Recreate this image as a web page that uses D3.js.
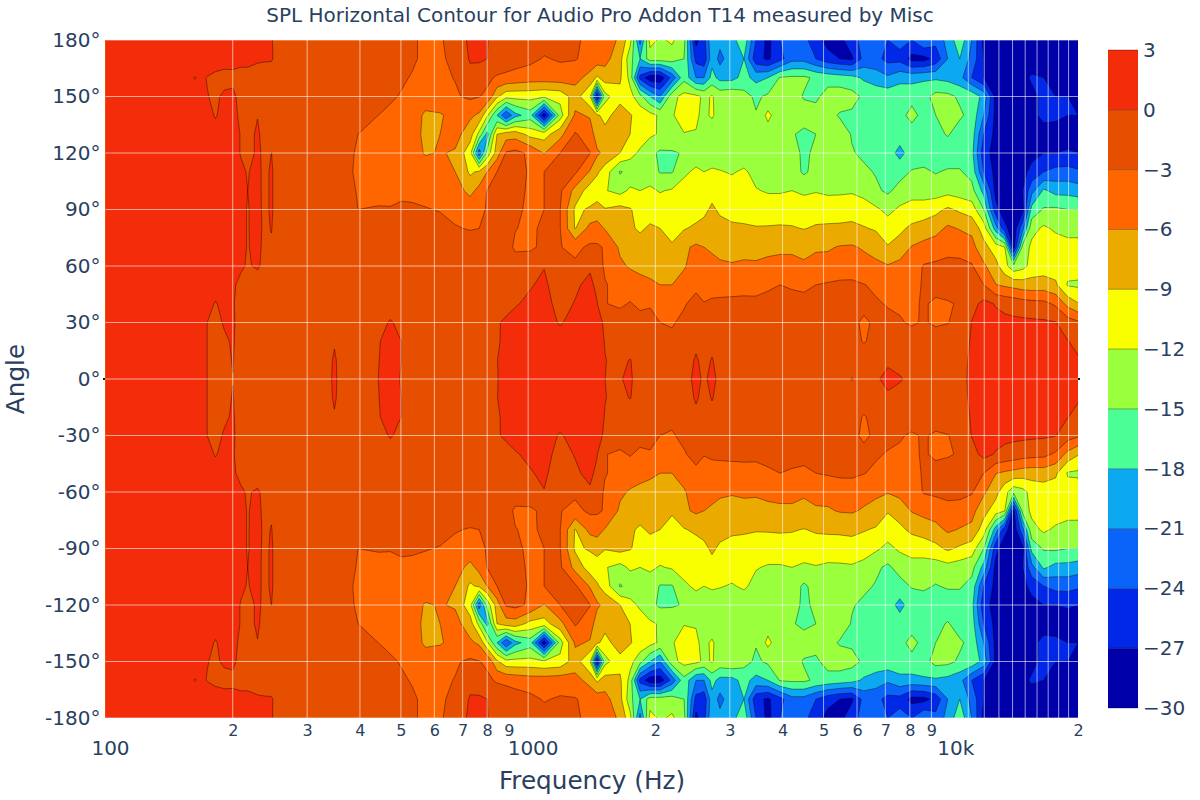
<!DOCTYPE html>
<html>
<head>
<meta charset="utf-8">
<title>SPL Horizontal Contour</title>
<script src="https://cdn.jsdelivr.net/npm/d3@7"></script>
<style>
  body { margin: 0; background: #fff; }
  text { font-family: "DejaVu Sans", Verdana, sans-serif; fill: #2a3f5f; }
</style>
</head>
<body>
<div id="chart"></div>
<script>
// frequency columns of the grid (Hz), 81 values
const frequencies = [
  100,150,163,168,174,182,191,200,209,217,229,238,247,256,289,333,348,363,396,442,
  472,501,532,571,619,672,729,766,800,844,887,932,1011,1091,1190,1292,1401,1456,1521,1650,
  1743,1840,1943,2052,2190,2338,2496,2607,2723,2844,3036,3240,3460,3693,3943,4209,4493,4796,5120,5465,
  5834,6228,6648,7096,7575,8086,8632,9214,9837,10500,11210,11967,12773,13420,14090,14790,15540,16590,17710,18910,20000
];
// angle rows from the top of the plot down to 0, the lower half mirrors them
const angles = [180,170,160,150,140,130,120,110,100,90,80,70,60,50,40,30,20,10,0];

const spl180 = [
  1.5,1.5,1.5,1.5,1.5,1.5,1.5,1,1,0.8,0.5,0.3,0.2,-1,-1.5,-1.6,-1.7,-1.8,-2,-2.2,
  -2.3,-2.5,-2.8,-3.3,-3.3,-1.8,0.6,0.7,0.1,-1,-1.3,-1.5,-1.7,-2,-2.3,-2.7,-3.5,-4,-4.5,-6.5,
  -11,-22,-11,-12.5,-11.5,-14,-28,-25,-18.5,-20,-19,-16,-24,-28,-24,-21,-23,-26,-28,-28,
  -25,-23,-23,-24,-23,-24,-21,-23,-20,-16,-21,-28,-28,-29,-29,-29,-29,-28,-28,-29,-29];
const spl170 = [
  1.5,1.5,1.5,1.5,1.5,1.5,1,0.8,0.8,0.8,0.3,0.2,0.2,-0.8,-1.5,-1.6,-1.7,-1.8,-2,-2.2,
  -2.4,-2.6,-2.8,-3.3,-3.3,-2.5,0.3,0.4,0,-1.2,-1.5,-1.8,-2.3,-3.2,-2.7,-2.8,-4,-4.3,-5,-8,
  -14,-18,-13.5,-13.5,-13.5,-15,-25,-26,-19,-22,-19,-18,-26,-27.5,-25,-22,-22,-24,-26,-27,
  -27.5,-23,-23,-25,-25,-28,-28,-26,-21,-18,-22,-27,-29,-29,-29,-29,-29,-29,-29,-29,-29];
const spl160 = [
  1.5,1,-0.1,0.5,-0.1,-0.7,-0.8,-0.6,-1,-1,-1,-1,-1.2,-1.3,-1.5,-1.7,-1.8,-1.9,-2.1,-2.4,
  -2.6,-2.8,-3.1,-3.3,-3.5,-2.9,-1,-1.5,-2.5,-3.3,-3.6,-4,-4.5,-4.5,-4.3,-5,-7,-9.5,-7.5,-8.5,
  -13,-25,-29,-29,-23,-16,-21,-21,-17,-19,-19,-17,-19,-18,-14.8,-14.5,-14.5,-15.5,-16,-16.5,
  -17,-18.5,-19.5,-20.5,-19,-19,-18.5,-18.5,-19,-20,-24,-27,-28,-29,-29,-28,-26.5,-27,-27.5,-28,-28];
const spl150 = [
  1.5,1.5,1,0.8,0.1,-0.4,0.4,0.5,-0.7,-1,-1,-1.2,-1.3,-1.4,-1.6,-1.8,-1.9,-2,-2.2,-2.6,
  -2.8,-3.1,-3.5,-4.5,-4,-3.3,-2.5,-2.9,-3.5,-8.5,-11,-11,-11,-11.5,-11,-7.5,-12,-28,-13,-10,
  -11,-14,-18,-21,-13,-11,-11.3,-12.5,-11.8,-13,-12.5,-14,-15.5,-14.5,-14,-14,-15.2,-15.5,-14,-13.5,
  -14,-15.5,-16,-16,-16,-16,-16,-14,-14.2,-15.5,-16,-19,-28,-29,-29,-29,-28,-26,-27,-27,-27.5];
const spl140 = [
  1.5,1.5,1.5,1,0.8,-0.2,0.8,0.6,-0.4,-1,-0.1,-1.2,-1.4,-1.5,-1.7,-2,-2.1,-2.2,-2.5,-3,
  -3.3,-3.6,-4.5,-6.5,-6.3,-5,-5.5,-6.5,-11.5,-18,-24,-19,-16.5,-29,-13.5,-5.5,-6.3,-8.5,-10,-7.5,
  -8.8,-10,-11,-12.5,-12.2,-11,-11.7,-12.5,-11.7,-13,-14.8,-15,-14.8,-11.2,-14,-14,-14,-14,-14,-15.3,
  -15.5,-15.7,-16,-16,-16,-14,-16,-15,-14,-14.5,-16,-21,-28,-29,-29,-29,-28,-26,-26,-27,-27];
const spl130 = [
  1.5,1.5,1.5,1.5,1.2,1,1,0.8,-0.1,-0.8,0.4,-1,-1.2,-1.4,-1.7,-2,-2.1,-2.3,-3,-3.6,
  -3.6,-3.8,-4.5,-6.8,-6,-5,-7.5,-13,-19,-9,-7.5,-7.3,-10,-10.3,-7,-2.7,-4.5,-7.5,-8,-8.2,
  -9,-10.5,-11.5,-12.3,-13,-12.1,-12.1,-13.2,-13.3,-13.4,-13.5,-13.5,-13.5,-13.5,-13.5,-14.8,-15.5,-15,-13.7,-13.5,
  -15.2,-16,-16,-16,-16.5,-16.5,-16.5,-16,-14.7,-16.5,-16.5,-24,-28,-29,-29.5,-29.5,-29,-28.5,-29,-29,-29];
const spl120 = [
  1.5,1.5,1.5,1.5,1.5,1.2,1,0.8,-0.1,-1,0.5,-0.6,0.02,-1.2,-1.6,-2,-2.2,-2.4,-3.2,-3.6,
  -3.7,-3.9,-4.5,-6.3,-5.8,-6.3,-11,-23,-14,-7.5,-2.7,-2.2,-3.5,-6.2,-3,-2,-2.9,-5.5,-6.7,-9,
  -11,-12.5,-14.2,-15.5,-15.3,-14.8,-14,-14,-14,-14,-14,-14,-14,-13.5,-13.8,-14,-15.5,-14.5,-14,-13.8,
  -14.8,-15.5,-16,-16.5,-19,-16.5,-16.5,-16.5,-17,-16.5,-17,-26,-28,-29,-29,-29,-28,-27,-27,-26.5,-27];
const spl110 = [
  1.5,1.5,1.5,1.5,1.5,1.2,1,0.8,0.3,-0.1,0.5,-0.5,0.3,-1.2,-1.6,-2,-2.2,-2.4,-3.3,-3.7,
  -3.8,-3.9,-4,-4.2,-4.5,-6,-9.5,-8.5,-6,-3,-2.2,-2,-3.3,-3,-1.8,-2.5,-6.3,-8.5,-10.5,-15.3,
  -14,-13.5,-13.5,-15.2,-15.2,-12.7,-11.3,-12,-11.5,-11.8,-12.3,-11.5,-13,-13,-13.5,-13.5,-15.5,-14,-13.8,-13.8,
  -14,-14.5,-15.2,-16,-16,-14.8,-14.5,-15.2,-14.6,-14.7,-16,-24,-28,-29,-28.5,-28,-26,-24,-23,-23,-23.5];
const spl100 = [
  1.5,1.5,1.5,1.5,1.5,1.2,1,0.8,0.4,0,0.5,-0.5,0.3,-1.2,-1.6,-2,-2.2,-2.4,-3.1,-3.4,
  -3.5,-3.5,-3.5,-3.6,-3.7,-4.5,-7,-5,-2.9,-2.7,-2,-2,-3.5,-3,-2.5,-7,-10.5,-11,-11.8,-13,
  -11.5,-12,-11.5,-12.2,-11.7,-10.5,-10,-10.5,-10,-10,-10.5,-10.5,-11.8,-12.3,-12.3,-12,-12.5,-12.2,-12.5,-12.5,
  -12.3,-13,-14.5,-15.5,-14,-13.5,-13.5,-13.5,-13,-13.5,-14,-19,-28,-29,-29,-27,-22,-17.5,-19,-19,-19.5];
const spl90 = [
  1.5,1.5,1.5,1.5,1.5,1.2,1,0.8,0.5,-0.1,0.6,-0.5,0.3,-1.2,-1.6,-2,-2.2,-2.4,-3,-2.9,
  -2.9,-2.6,-2.7,-2.9,-3.1,-3.4,-3.8,-3.3,-2.9,-2.5,-2,-2.5,-3.5,-3,-2.9,-9.5,-8.7,-7.5,-8.8,-8,
  -8.8,-10,-10.5,-10.5,-10.5,-10,-10.2,-9.7,-8.5,-9.5,-10,-10.5,-10.5,-10.3,-10.3,-10.2,-10.5,-10.2,-10.5,-10.3,
  -10.4,-10.6,-11.5,-12.8,-11.5,-10.5,-10.5,-9.8,-8.5,-9.5,-10.5,-15,-26,-29,-29,-28,-17,-14.7,-14.5,-15,-15];
const spl80 = [
  1.5,1.5,1.5,1.5,1.5,1.2,1,0.8,0.5,-0.1,0.6,-0.4,0.1,-1.2,-1.5,-1.7,-1.8,-1.9,-2,-2.2,
  -2.2,-2.2,-2.3,-2.3,-2.4,-2.9,-3.1,-3,-2.6,-2.2,-2,-2.9,-3.5,-2.5,-2.9,-9.2,-5,-5,-6.2,-7.5,
  -8.5,-9.5,-8.5,-9,-9.6,-9.2,-8.5,-8,-7.5,-8,-8.5,-8.5,-8.8,-8.8,-8.7,-8.8,-9.1,-8.7,-8.5,-8.5,
  -8.2,-8.8,-9.3,-10.5,-9.5,-8.5,-7.8,-7,-5.5,-6.2,-6.7,-10.5,-19.5,-26,-29,-22,-13,-11.5,-12.5,-13,-12.5];
const spl70 = [
  1.5,1.5,1.5,1.5,1.5,1.2,1,0.8,0.5,-0.1,0.5,-0.5,-0.3,-1.2,-1.4,-1.5,-1.5,-1.5,-1.6,-1.7,
  -1.7,-1.8,-1.8,-1.9,-2,-2.2,-2.2,-2.2,-2,-2,-2,-3.4,-3.4,-2.5,-2.9,-3.7,-2.5,-2.5,-3.3,-6.5,
  -7,-7.5,-8,-8.8,-8.8,-6.5,-5.5,-6,-6.5,-7,-7.3,-7,-7,-6.5,-6.5,-6.5,-7,-6.3,-6.3,-5.8,
  -5.7,-6.3,-7.2,-8.8,-8,-5.8,-5,-4.5,-3.8,-4,-5,-8,-10.5,-12,-28,-14,-11.3,-10.5,-10.5,-11,-11.5];
const spl60 = [
  1.5,1.5,1.5,1.5,1.5,1.2,1,0.8,0.3,-0.2,0.3,-0.6,-1,-1.2,-1.4,-1.5,-1.5,-1.5,-1.5,-1.6,
  -1.6,-1.6,-1.7,-1.7,-1.7,-1.7,-1.8,-1.8,-1.8,-1.8,-1.8,-1.8,-1.5,-0.1,-2.9,-2.5,-0.3,-1.5,-3.5,-5.5,
  -6.3,-6.8,-7,-7.3,-7.7,-6.3,-4.5,-5,-5,-5.5,-5.7,-5.5,-5.6,-5.5,-5.2,-5.2,-5.5,-5.2,-5,-4.8,
  -4.6,-5,-5.3,-5.8,-5,-4.3,-2.8,-2.5,-2.3,-2.3,-2.7,-5.5,-8,-11,-14,-13,-11,-10.5,-10.5,-10.8,-10.5];
const spl50 = [
  1.5,1.5,1.5,1.5,1.5,1.2,1,0.3,-0.5,-1,-1.2,-1.2,-1.2,-1.3,-1.4,-1.4,-1.4,-1.4,-1.4,-1.4,
  -1.5,-1.4,-1.4,-1.5,-1.5,-1.5,-1.6,-1.6,-1.5,-2,-1.8,-1.2,-0.2,0.5,-1.5,-0.3,0.5,-0.5,-2.8,-4,
  -4.5,-5,-5.5,-6,-6,-4.8,-3.5,-4,-4.2,-4,-4,-3.7,-3.9,-3.5,-3,-3.4,-3.8,-3,-2.7,-2.4,
  -2.4,-2.9,-3.5,-4,-4,-4,-2.7,-2,-2,-2,-2.3,-3,-5.9,-6.5,-7,-7.5,-7.7,-7.6,-8.5,-12.3,-12.5];
const spl40 = [
  1.5,1.5,1.5,1.5,1,-0.2,0.8,0.2,-0.8,-1,-1.2,-1.2,-1.2,-1.3,-1.3,-1.3,-1.3,-1.3,-1.3,-1,
  -0.5,-0.9,-1.2,-1.4,-1.5,-1.5,-1.5,-1.5,-1.5,-1.5,-1,-0.2,0.5,0.6,-0.6,0.1,0.7,0.1,-2.9,-3.5,
  -2.8,-3.7,-3.3,-3.3,-3.7,-3.2,-2.3,-2.9,-2.5,-2.5,-2.4,-2.5,-2.4,-2,-1.8,-1.8,-1.8,-1.8,-1.7,-1.7,
  -1.9,-2.2,-2.7,-3.2,-3.5,-3.5,-2.7,-3.5,-3.2,-2.8,-1,0.8,-0.2,-0.8,-1.2,-1.7,-2,-2.2,-3.5,-7,-8.8];
const spl30 = [
  1.5,1.5,1.5,0.8,0,-0.6,0.2,0.3,-0.8,-1,-1.2,-1.2,-1.2,-1.3,-1.3,-1.3,-1.2,-1.3,-1.2,-0.4,
  0.1,-0.3,-1,-1.3,-1.4,-1.5,-1.5,-1.2,-1,-0.3,0.5,0.8,1,1,-0.2,0.7,1,0.6,-0.3,-1.5,
  -1.5,-1.8,-2,-3,-3.2,-2.5,-2,-1.7,-1.5,-1.5,-1.5,-1.5,-1.5,-1.3,-1.3,-1.3,-1.3,-1.3,-1.4,-1.5,
  -2.3,-3.5,-2.5,-2.3,-2.7,-3.4,-2.7,-3.5,-3.1,-2,0.1,1,0.8,0.7,0.6,0.6,0.5,0.4,0.1,-1.5,-2.5];
const spl20 = [
  1.5,1.5,1.5,0.8,0,-0.6,-0.3,0.2,-0.8,-1.1,-1.2,-1.2,-1.2,-1.3,-1.3,-1,-0.2,-1,-0.9,-0.1,
  0.5,0,-0.9,-1.2,-1.3,-1.3,-1.2,-1,-0.8,-0.3,0.6,1,1,1,0.9,1,1,0.8,-0.1,-1.2,
  -1.5,-1.5,-1.7,-2.5,-2.5,-1.5,-0.4,-0.9,-0.5,-1.2,-1.2,-1.2,-1.2,-1.2,-1.2,-1.2,-1.2,-1.2,-1.2,-1.2,
  -2,-3.2,-2.2,-1.5,-1.3,-1.3,-1.3,-1.3,-1.3,-1.5,0.3,1.2,1.2,1.2,1.2,1.2,1.1,1,0.8,0.1,-0.8];
const spl10 = [
  1.5,1.5,1.5,0.7,0,-0.7,-0.6,0.1,-0.9,-1.2,-1.3,-1.3,-1.3,-1.4,-1.4,-0.9,0.3,-0.9,-0.9,-0.05,
  0.6,0,-0.9,-1.3,-1.5,-1.5,-1.3,-1,-0.7,-0.05,0.8,1,1,1,1,1,0.9,0.6,0.05,-0.5,
  0.1,-1,-1,-1,-1,-0.9,0.2,-0.5,0.1,-0.6,-1.1,-1.2,-1.2,-1.2,-1.2,-1.2,-1.2,-1.2,-1.2,-1.2,
  -1.2,-1.2,-1,-0.5,-0.8,-1,-1,-1,-1,-1,0.5,1.3,1.3,1.3,1.3,1.3,1.3,1.3,1.2,0.8,0.3];
const spl0 = [
  1.5,1.5,1,0.6,0,-0.6,-0.6,-0.05,-1,-1.2,-1.3,-1.3,-1.3,-1.4,-1.4,-0.8,0.4,-0.9,-0.9,0,
  0.6,-0.1,-1,-1.5,-1.8,-1.8,-1.5,-1.2,-1,-0.1,0.7,1,1,1,1,1,0.6,0.3,0,-0.1,
  0.3,-1,-1,-1,-1,-0.8,0.5,-0.3,0.5,-0.5,-1,-1.2,-1.2,-1.2,-1.2,-1.2,-1.2,-1.2,-1.2,-1,
  0.1,-0.7,-0.4,0.8,0.2,-0.6,-1,-1,-1,-0.6,0.4,1.2,1.2,1.2,1.2,1.2,1.2,1.2,1.2,1.2,0.8];

const upperRows = [spl180,spl170,spl160,spl150,spl140,spl130,spl120,spl110,spl100,spl90,spl80,spl70,spl60,spl50,spl40,spl30,spl20,spl10,spl0];

const levels = [-27,-24,-21,-18,-15,-12,-9,-6,-3,0];
const bandColors = ["#0000aa","#0028e6","#0a64fa","#0ca8f0","#4bff96","#9aff3c","#faff00","#ebaa00","#ff6600","#e64e00","#f32c0a"];
const angleTicks = [180,150,120,90,60,30,0,-30,-60,-90,-120,-150,-180];
// the reference has no grid line at 900 and 10k
const gridFreqs = [200,300,400,500,600,700,800,1000,2000,3000,4000,5000,6000,7000,8000,9000,
  11000,12000,13000,14000,15000,16000,17000,18000,19000];
const digitTicks = [200,300,400,500,600,700,800,900,2000,3000,4000,5000,6000,7000,8000,9000,20000];
const colorTicks = [3,0,-3,-6,-9,-12,-15,-18,-21,-24,-27,-30];

const allAngles = angles.concat(angles.slice(0,-1).map(a => -a).reverse());
const allRows = upperRows.concat(upperRows.slice(0,-1).reverse());

const svg = d3.select("#chart").append("svg").attr("width",1200).attr("height",800);

const x = d3.scaleLog().domain([100,20000]).range([105.5,1078]);
const y = d3.scaleLinear().domain([180,-180]).range([40,718]);
const c = d3.scaleLinear().domain([3,-30]).range([50,708]);

const nx = frequencies.length, ny = allAngles.length;
const values = [];
allRows.forEach(r => { if (r.length != nx) console.log("bad row", r.length); r.forEach(v => values.push(v)); });

// grid index -> pixel, the grid is not even in x so go through the columns
function gridPx(g, list, scale, lo, hi) {
  const n = list.length;
  if (g <= 0) return lo - 3;
  if (g >= n) return hi + 3;
  const p = Math.max(0, Math.min(n-1, g-0.5));
  const i = Math.min(n-2, Math.floor(p));
  const a = scale(list[i]), b = scale(list[i+1]);
  return a + (b-a)*(p-i);
}
const path = d3.geoPath(d3.geoTransform({
  point: function(px, py) {
    this.stream.point(gridPx(px,frequencies,x,105.5,1078), gridPx(py,allAngles,y,40,718));
  }
}));

svg.append("clipPath").attr("id","plotclip").append("rect")
  .attr("x",105.5).attr("y",40).attr("width",1078-105.5).attr("height",678);

// zero line sits under the plot, only its ends stick out
svg.append("line").attr("x1",103).attr("x2",1080).attr("y1",y(0)).attr("y2",y(0))
  .attr("stroke","#111").attr("stroke-width",2);

const plot = svg.append("g").attr("clip-path","url(#plotclip)");
plot.append("rect").attr("x",105.5).attr("y",40).attr("width",1078-105.5).attr("height",678)
  .attr("fill",bandColors[0]);

const contours = d3.contours().size([nx,ny]).thresholds(levels)(values);
plot.selectAll("path.band").data(contours).enter().append("path")
  .attr("class","band")
  .attr("d",path)
  .attr("fill",(d,i) => bandColors[i+1])
  .attr("stroke","#000").attr("stroke-opacity",0.65).attr("stroke-width",0.6);

// grid on top of the contours
svg.append("g").selectAll("line").data(gridFreqs).enter().append("line")
  .attr("x1",d => x(d)).attr("x2",d => x(d)).attr("y1",40).attr("y2",718)
  .attr("stroke","#fff").attr("stroke-opacity",0.6).attr("stroke-width",1);
svg.append("g").selectAll("line").data(angleTicks).enter().append("line")
  .attr("x1",105.5).attr("x2",1078).attr("y1",d => y(d)).attr("y2",d => y(d))
  .attr("stroke","#fff").attr("stroke-opacity",0.6).attr("stroke-width",1);

// y axis
const yAxis = d3.axisLeft(y).tickValues(angleTicks).tickSize(0).tickPadding(5).tickFormat(d => d + "°");
const yg = svg.append("g").attr("transform","translate(105.5,0)").call(yAxis);
yg.select(".domain").remove();
yg.selectAll("text").style("font-size","20px");

// x axis, 100 / 1000 / 10k are bigger and lower than the digit ticks
const xAxis = d3.axisBottom(x).tickValues(digitTicks)
  .tickSize(0).tickPadding(7).tickFormat(d => String(d).charAt(0));
const xg = svg.append("g").attr("transform","translate(0,718)").call(xAxis);
xg.select(".domain").remove();
xg.selectAll("text").style("font-size","16px");
svg.append("g").selectAll("text").data([[100,"100"],[1000,"1000"],[10000,"10k"]]).enter().append("text")
  .attr("x",d => x(d[0]) + 5).attr("y",755).attr("text-anchor","middle")
  .style("font-size","20px").text(d => d[1]);

svg.append("text").attr("x",600).attr("y",22).attr("text-anchor","middle").style("font-size","20px")
  .text("SPL Horizontal Contour for Audio Pro Addon T14 measured by Misc");
svg.append("text").attr("x",592).attr("y",789).attr("text-anchor","middle").style("font-size","24.7px")
  .text("Frequency (Hz)");
svg.append("text").attr("transform","translate(24,379) rotate(-90)").attr("text-anchor","middle").style("font-size","24.7px")
  .text("Angle");

// colour bar
const bar = svg.append("g");
const barEdges = [-30].concat(levels).concat([3]);
bar.selectAll("rect").data(bandColors).enter().append("rect")
  .attr("x",1108).attr("width",30)
  .attr("y",(d,i) => c(barEdges[i+1]))
  .attr("height",(d,i) => c(barEdges[i]) - c(barEdges[i+1]))
  .attr("fill",d => d);
bar.selectAll("line").data(barEdges).enter().append("line")
  .attr("x1",1108).attr("x2",1138).attr("y1",d => c(d)).attr("y2",d => c(d))
  .attr("stroke","#000").attr("stroke-opacity",0.4).attr("stroke-width",0.8);
const cAxis = d3.axisRight(c).tickValues(colorTicks).tickSize(0).tickPadding(5).tickFormat(d => String(d).replace("-","−"));
const cg = svg.append("g").attr("transform","translate(1138,0)").call(cAxis);
cg.select(".domain").remove();
cg.selectAll("text").style("font-size","20px");
</script>
</body>
</html>
